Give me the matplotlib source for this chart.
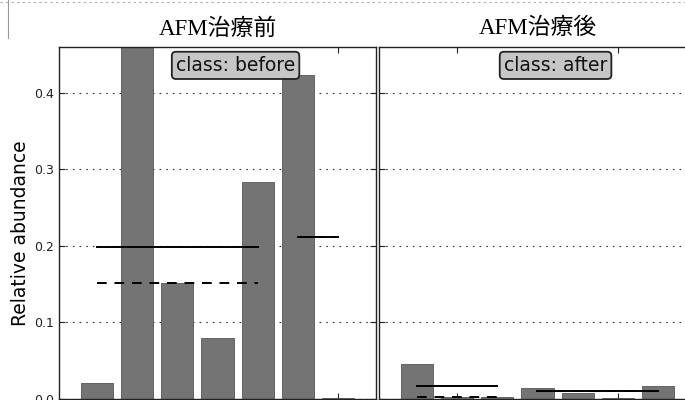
import matplotlib
matplotlib.use("Agg")
import matplotlib.pyplot as plt
import numpy as np
from matplotlib.lines import Line2D

# per-sample relative abundance, grouped into subclasses within each class
before_vals = [0.021, 0.46, 0.151, 0.080, 0.284, 0.423, 0.001]
before_groups = [0, 0, 0, 0, 0, 1, 1]
after_vals = [0.046, 0.003, 0.002, 0.014, 0.008, 0.001, 0.017]
after_groups = [0, 0, 0, 1, 1, 1, 1]

titles = ["AFM治療前", "AFM治療後"]
class_labels = ["class: before", "class: after"]
yticks = [0.0, 0.1, 0.2, 0.3, 0.4]
top_ticks = [[6], [1, 5]]

W, H = 685, 400
fig = plt.figure(figsize=(W / 100, H / 100), dpi=100)

bar_color = "#747474"
ymax = 0.46


def draw_panel(ax, vals, groups, label, ticks):
    x = np.arange(len(vals))
    ax.bar(x, vals, width=0.8, color=bar_color, edgecolor="#555555",
           linewidth=0.6, zorder=2)
    groups = np.array(groups)
    vals = np.array(vals)
    for g in np.unique(groups):
        idx = np.where(groups == g)[0]
        xs = [idx[0], idx[-1]]
        m = vals[idx].mean()
        med = np.median(vals[idx])
        ax.plot(xs, [m, m], color="black", lw=1.4, zorder=3)
        ax.plot(xs, [med, med], color="black", lw=1.4, ls=(0, (5, 4)), zorder=3)
    ax.set_xlim(-0.95, 6.95)
    ax.set_ylim(0, ymax)
    ax.set_yticks(yticks)
    ax.set_xticks(ticks)
    ax.set_xticklabels([])
    ax.grid(axis="y", ls=(0, (1.5, 4.5)), color="#333333", lw=0.8, zorder=0)
    ax.set_axisbelow(True)
    ax.tick_params(direction="in", length=4, top=True, right=True,
                   labelsize=9, colors="#222222")
    for s in ax.spines.values():
        s.set_linewidth(1.0)
        s.set_color("#222222")
    ax.text(3.45, 0.436, label, ha="center", va="center", fontsize=13.5,
            color="#111111",
            bbox=dict(boxstyle="round,pad=0.22", fc="#c6c6c6", ec="#222222", lw=1.3))


bottom = 1.0 / H
height = (H - 47) / H - bottom
ax1 = fig.add_axes([59 / W, bottom, 317 / W, height])
ax2 = fig.add_axes([379 / W, bottom, 317 / W, height])

draw_panel(ax1, before_vals, before_groups, class_labels[0], top_ticks[0])
draw_panel(ax2, after_vals, after_groups, class_labels[1], top_ticks[1])
ax1.yaxis.set_major_formatter(matplotlib.ticker.FormatStrFormatter("%.1f"))
ax2.tick_params(labelleft=False)
ax1.set_ylabel("Relative abundance", fontsize=13.5)
ax1.yaxis.set_label_coords(-0.092, 0.47)

for ax, t in zip([ax1, ax2], titles):
    ax.set_title(t, fontsize=16.5, pad=9,
                 family=["Liberation Serif", "Noto Sans CJK JP"])

# faint border marks along the top left corner
fig.add_artist(Line2D([0, 1], [1 - 2 / H, 1 - 2 / H], color="#aaaaaa",
                      lw=0.8, ls=(0, (2, 3))))
fig.add_artist(Line2D([8 / W, 8 / W], [1, 1 - 38 / H], color="#999999", lw=0.8))

fig.savefig("out.png", dpi=100)
